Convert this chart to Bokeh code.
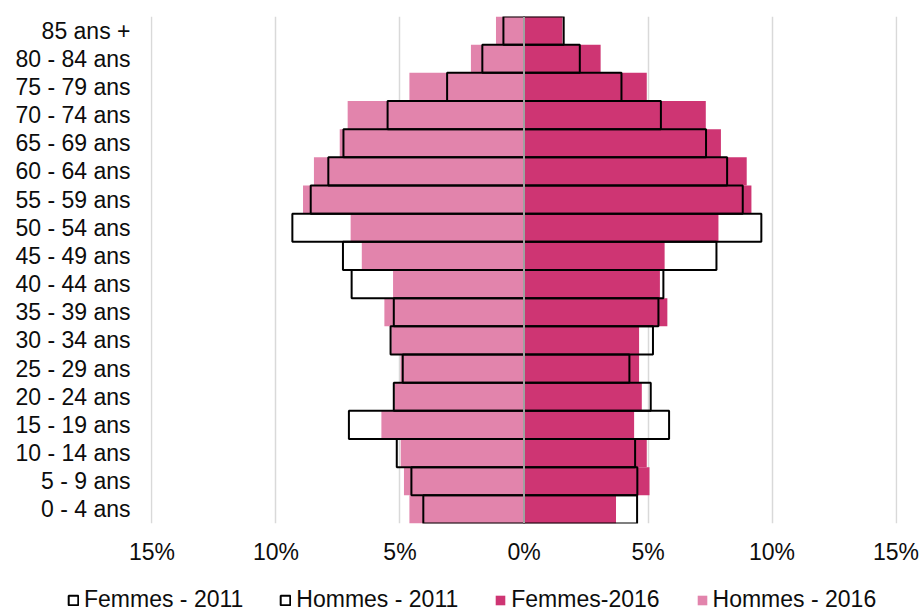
from bokeh.plotting import figure
from bokeh.models import (ColumnDataSource, FactorRange, Range1d, FixedTicker,
                          CustomJSTickFormatter, Span, Legend, LegendItem)
from bokeh.embed import file_html
from bokeh.resources import INLINE

ages = ["0 - 4 ans", "5 - 9 ans", "10 - 14 ans", "15 - 19 ans", "20 - 24 ans",
        "25 - 29 ans", "30 - 34 ans", "35 - 39 ans", "40 - 44 ans", "45 - 49 ans",
        "50 - 54 ans", "55 - 59 ans", "60 - 64 ans", "65 - 69 ans", "70 - 74 ans",
        "75 - 79 ans", "80 - 84 ans", "85 ans +"]

hommes_2016 = [4.62, 4.84, 4.97, 5.75, 5.22, 4.98, 5.35, 5.63, 5.28, 6.54,
               6.99, 8.91, 8.47, 7.43, 7.11, 4.62, 2.14, 1.13]
hommes_2011 = [4.06, 4.54, 5.13, 7.06, 5.25, 4.89, 5.38, 5.25, 6.95, 7.30,
               9.34, 8.60, 7.89, 7.28, 5.50, 3.10, 1.68, 0.83]
femmes_2016 = [3.71, 5.06, 4.95, 4.44, 4.75, 4.64, 4.64, 5.78, 5.48, 5.67,
               7.84, 9.17, 8.98, 7.94, 7.33, 4.95, 3.09, 1.55]
femmes_2011 = [4.56, 4.57, 4.48, 5.85, 5.11, 4.25, 5.20, 5.42, 5.62, 7.76,
               9.57, 8.82, 8.19, 7.34, 5.52, 3.93, 2.25, 1.60]

x_ticks = [-15, -10, -5, 0, 5, 10, 15]

FONT = "Liberation Sans"
FS = "23px"
TXT = "#0d0d0d"
C_F = "#CE3573"
C_H = "#E284AC"

src = ColumnDataSource(dict(
    age=ages,
    h16=[-v for v in hommes_2016],
    h11=[-v for v in hommes_2011],
    f16=femmes_2016,
    f11=femmes_2011,
))


def draw(fig, visible=True):
    r_h16 = fig.hbar(y="age", left="h16", right=0, height=1.0, source=src,
                     fill_color=C_H, line_color=None, visible=visible)
    r_f16 = fig.hbar(y="age", left=0, right="f16", height=1.0, source=src,
                     fill_color=C_F, line_color=None, visible=visible)
    r_h11 = fig.hbar(y="age", left="h11", right=0, height=1.0, source=src,
                     fill_color=None, line_color="black", line_width=2,
                     visible=visible)
    r_f11 = fig.hbar(y="age", left=0, right="f11", height=1.0, source=src,
                     fill_color=None, line_color="black", line_width=2,
                     visible=visible)
    return r_h16, r_f16, r_h11, r_f11


p = figure(width=922, height=573, output_backend="svg", toolbar_location=None,
           y_range=FactorRange(*ages, range_padding=0),
           x_range=Range1d(-15.06, 15.06),
           min_border_left=150, min_border_right=25, min_border_top=16,
           min_border_bottom=50)
p.outline_line_color = None
draw(p)
p.add_layout(Span(location=0, dimension="height", line_color="#a0a0a0",
                  line_width=2))

p.xaxis.ticker = FixedTicker(ticks=x_ticks)
p.xaxis.formatter = CustomJSTickFormatter(code="return Math.abs(tick) + '%'")
for ax in (p.xaxis[0], p.yaxis[0]):
    ax.axis_line_color = None
    ax.major_tick_line_color = None
    ax.minor_tick_line_color = None
    ax.major_tick_out = 0
    ax.major_tick_in = 0
    ax.major_label_text_font = FONT
    ax.major_label_text_font_size = FS
    ax.major_label_text_color = TXT
p.xaxis.major_label_standoff = 15
p.yaxis.major_label_standoff = 20
p.xgrid.grid_line_color = "#d9d9d9"
p.xgrid.grid_line_width = 1.5
p.ygrid.grid_line_color = None

# legend strip (separate root): hidden copies of the glyphs feed the legend
q = figure(width=922, height=40, output_backend="svg", toolbar_location=None,
           y_range=FactorRange(*ages, range_padding=0),
           x_range=Range1d(-15.06, 15.06), x_axis_type=None, y_axis_type=None,
           min_border=0, min_border_left=0, min_border_right=0,
           min_border_top=0, min_border_bottom=0)
q.outline_line_color = None
q.grid.grid_line_color = None
l_h16, l_f16, l_h11, l_f11 = draw(q, visible=False)

legend = Legend(items=[
    LegendItem(label="Femmes - 2011", renderers=[l_f11]),
    LegendItem(label="Hommes - 2011", renderers=[l_h11]),
    LegendItem(label="Femmes-2016", renderers=[l_f16]),
    LegendItem(label="Hommes - 2016", renderers=[l_h16]),
], orientation="horizontal", location=(67, 0),
    glyph_width=12, glyph_height=12, label_standoff=5, spacing=36,
    padding=0, margin=0, border_line_color=None, background_fill_alpha=0,
    inactive_fill_alpha=0,
    label_text_font=FONT, label_text_font_size=FS, label_text_color=TXT,
    label_height=22)
q.add_layout(legend, "center")

open("out.html", "w").write(file_html([p, q], INLINE))
